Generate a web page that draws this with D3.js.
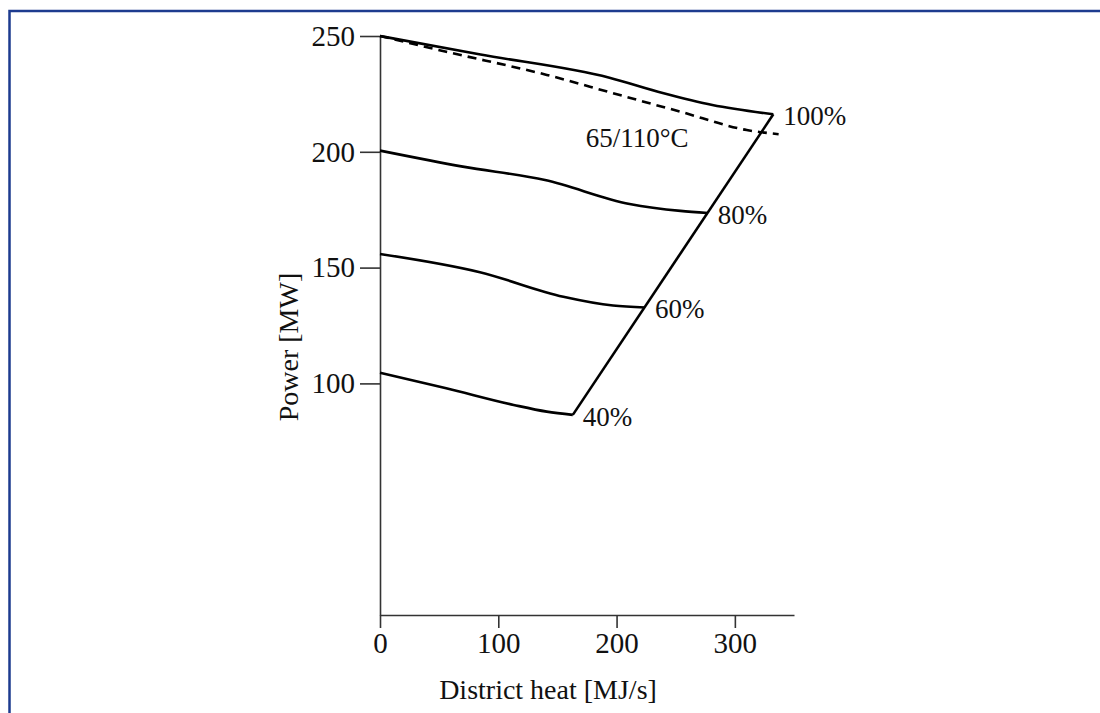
<!DOCTYPE html>
<html>
<head>
<meta charset="utf-8">
<script src="https://cdn.jsdelivr.net/npm/d3@7"></script>
<style>
  html, body { margin: 0; padding: 0; background: #fff; }
  svg text { font-family: "Liberation Serif", "Times New Roman", serif; fill: #111; }
  .axis path, .axis line { stroke: #333; stroke-width: 1.6; }
  .curve { fill: none; stroke: #000; stroke-width: 2.6; stroke-linejoin: round; }
</style>
</head>
<body>
<script>
// load curves, district heat [MJ/s] vs power [MW]
var heat100 = [0, 85, 194, 239, 281, 332.5],
    power100 = [250, 242, 232, 225.4, 220.2, 216.2];
var heat80 = [0, 70, 139.5, 211, 254, 277],
    power80 = [200.5, 193.6, 187.8, 177.5, 174.5, 173.6];
var heat60 = [0, 84.5, 155, 197, 224],
    power60 = [155.9, 148, 137.4, 133.6, 132.8];
var heat40 = [0, 56, 113, 141, 163],
    power40 = [104.6, 97.9, 90.7, 87.8, 86.4];

// 65/110 degC dashed curve
var heatDash = [0, 56, 141, 197, 254, 310, 337],
    powerDash = [250, 243.2, 233.2, 225.3, 217.3, 209.4, 207.6];

// max heat line joining the curve ends
var heatMax = [163, 332.5],
    powerMax = [86.4, 216.2];

var loadLabels = ['100%', '80%', '60%', '40%'];
var xTicks = [0, 100, 200, 300],
    yTicks = [100, 150, 200, 250];

var width = 1100,
    height = 713;

var svg = d3.select('body')
  .append('svg')
  .attr('width', width)
  .attr('height', height);

// frame
svg.append('path')
  .attr('d', 'M1100,11H9.5V713')
  .attr('fill', 'none')
  .attr('stroke', '#1d3b8f')
  .attr('stroke-width', 2.5);

var x = d3.scaleLinear().domain([0, 350]).range([380, 794]);
var y = d3.scaleLinear().domain([0, 250]).range([615, 36]);

svg.append('g')
  .attr('class', 'axis')
  .attr('transform', 'translate(0,' + y(0) + ')')
  .call(d3.axisBottom(x).tickValues(xTicks).tickSize(13).tickSizeOuter(0).tickPadding(4));

svg.append('g')
  .attr('class', 'axis')
  .attr('transform', 'translate(' + x(0) + ',0)')
  .call(d3.axisLeft(y).tickValues(yTicks).tickSize(20).tickSizeOuter(0).tickPadding(5));

svg.selectAll('.axis text')
  .style('font-size', '29px')
  .style('font-family', '"Liberation Serif", serif')
  .attr('fill', '#111');

function zip( xs, ys ) {
  return xs.map(function( d, i ) { return [ d, ys[i] ]; });
}

var line = d3.line()
  .x(function( d ) { return x(d[0]); })
  .y(function( d ) { return y(d[1]); })
  .curve(d3.curveMonotoneX);

var curves = [
  zip(heat100, power100),
  zip(heat80, power80),
  zip(heat60, power60),
  zip(heat40, power40)
];

svg.selectAll('.load')
  .data(curves)
  .enter().append('path')
  .attr('class', 'curve load')
  .attr('d', line);

svg.append('path')
  .attr('class', 'curve')
  .attr('stroke-dasharray', '9,6')
  .attr('d', line(zip(heatDash, powerDash)));

svg.append('path')
  .attr('class', 'curve')
  .attr('d', d3.line()
    .x(function( d ) { return x(d[0]); })
    .y(function( d ) { return y(d[1]); })(zip(heatMax, powerMax)));

// labels at curve ends
svg.selectAll('.loadLabel')
  .data(curves)
  .enter().append('text')
  .attr('class', 'loadLabel')
  .attr('x', function( d ) { return x(d[d.length - 1][0]) + 10; })
  .attr('y', function( d ) { return y(d[d.length - 1][1]) + 11; })
  .style('font-size', '27px')
  .text(function( d, i ) { return loadLabels[i]; });

svg.append('text')
  .attr('x', x(174))
  .attr('y', y(202.2))
  .style('font-size', '27px')
  .text('65/110°C');

// axis titles
svg.append('text')
  .attr('x', 548)
  .attr('y', 699)
  .attr('text-anchor', 'middle')
  .style('font-size', '28px')
  .text('District heat [MJ/s]');

svg.append('text')
  .attr('transform', 'translate(298,347) rotate(-90)')
  .attr('text-anchor', 'middle')
  .style('font-size', '28px')
  .text('Power [MW]');
</script>
</body>
</html>
